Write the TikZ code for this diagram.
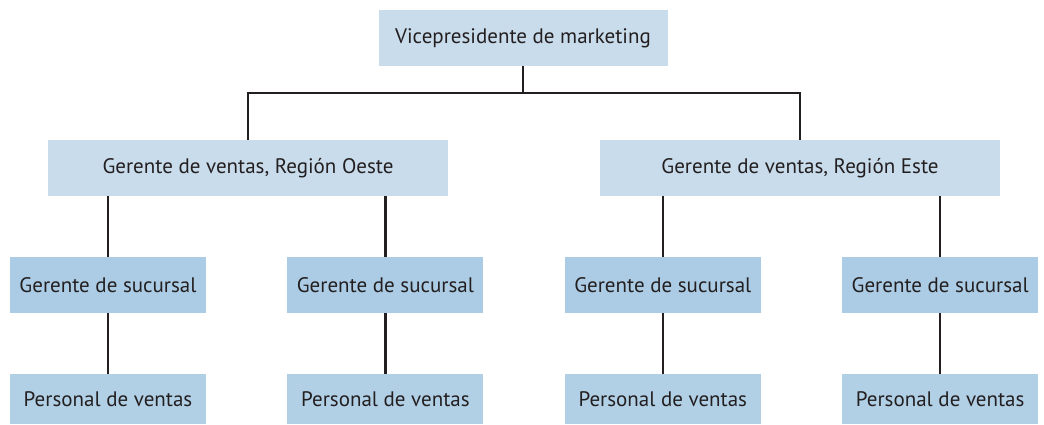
\documentclass[tikz,border=0pt]{standalone}
\usepackage{fontspec}
\setmainfont{PT Sans}
\usepackage{tikz}
\usetikzlibrary{positioning,calc}
\definecolor{levelone}{HTML}{C9DCEB}
\definecolor{leveltwo}{HTML}{ABCCE4}
\definecolor{levelthree}{HTML}{B1D0E6}
\definecolor{ink}{HTML}{231F20}

\begin{document}
\begin{tikzpicture}[
    x=1pt, y=1pt,
    node distance=61pt and 81pt,
    box/.style={rectangle, inner sep=0pt, text=ink, font=\fontsize{21}{25}\selectfont, minimum height=56pt},
    link/.style={draw=ink, line width=2.2pt}
]
    \useasboundingbox (0,0) rectangle (1044,-424);
    \node[box, fill=levelone, minimum width=289pt] (vp) at (523,-38) {Vicepresidente de marketing};
    \node[box, fill=levelone, minimum width=400pt] (oeste) at (248,-168) {Gerente de ventas, Región Oeste};
    \node[box, fill=levelone, minimum width=400pt] (este) at (800,-168) {Gerente de ventas, Región Este};
    \node[box, fill=leveltwo, minimum width=196pt] (suc1) at (108,-285) {Gerente de sucursal};
    \node[box, fill=leveltwo, minimum width=196pt, right=of suc1] (suc2) {Gerente de sucursal};
    \node[box, fill=leveltwo, minimum width=196pt, right=of suc2] (suc3) {Gerente de sucursal};
    \node[box, fill=leveltwo, minimum width=196pt, right=of suc3] (suc4) {Gerente de sucursal};
    \node[box, fill=levelthree, minimum width=196pt, minimum height=50pt, below=of suc1] (pers1) {Personal de ventas};
    \node[box, fill=levelthree, minimum width=196pt, minimum height=50pt, below=of suc2] (pers2) {Personal de ventas};
    \node[box, fill=levelthree, minimum width=196pt, minimum height=50pt, below=of suc3] (pers3) {Personal de ventas};
    \node[box, fill=levelthree, minimum width=196pt, minimum height=50pt, below=of suc4] (pers4) {Personal de ventas};

    \coordinate (bus) at ($(vp.south)+(0,-27)$);
    \draw[link] (vp.south) -- (bus);
    \draw[link] (oeste.north) |- (bus) -| (este.north);
    \draw[link] (oeste.south -| suc1.north) -- (suc1.north);
    \draw[link] (oeste.south -| suc2.north) -- (suc2.north);
    \draw[link] (este.south -| suc3.north) -- (suc3.north);
    \draw[link] (este.south -| suc4.north) -- (suc4.north);
    \foreach \i in {1,...,4}
        \draw[link] (suc\i) -- (pers\i);
\end{tikzpicture}
\end{document}
